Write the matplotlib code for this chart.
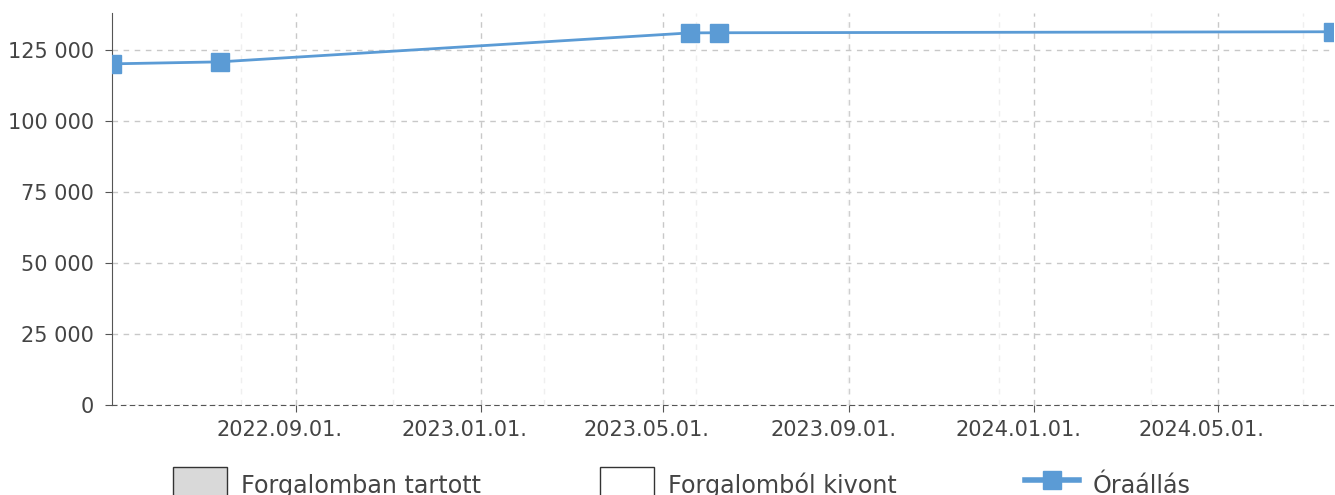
import numpy as np
import pandas as pd
import matplotlib
matplotlib.use("Agg")
import matplotlib.pyplot as plt
import matplotlib.dates as mdates
import matplotlib.transforms as mtransforms
from matplotlib.ticker import FuncFormatter, MultipleLocator
from matplotlib.patches import Patch
from matplotlib.lines import Line2D

plt.rcParams['font.family'] = ['DejaVu Sans']

# Adatok (leolvasva)
datumok = pd.to_datetime(["2022-05-03", "2022-07-13", "2023-05-19", "2023-06-07", "2024-07-16"])
oraallas = [120100, 120800, 131000, 131050, 131400]
y_tickek = [0, 25000, 50000, 75000, 100000, 125000]
x_tickek = pd.to_datetime(["2022-09-01", "2023-01-01", "2023-05-01", "2023-09-01", "2024-01-01", "2024-05-01"])
jelmagyarazat = ["Forgalomban tartott", "Forgalomból kivont", "Óraállás"]

kek = "#5b9bd5"
szoveg = "#444444"

fig = plt.figure(figsize=(13.35, 4.95), dpi=100)
ax = fig.add_axes([0.0839, 0.182, 0.9146, 0.7917])

ax.plot(datumok, oraallas, color=kek, lw=2, marker="s", markersize=13, zorder=3)

ax.set_xlim(datumok[0], datumok[-1])
ax.set_ylim(0, 138000)

ax.set_yticks(y_tickek)
ax.yaxis.set_major_formatter(FuncFormatter(lambda v, p: f"{int(v):,}".replace(",", " ")))
ax.set_xticks(x_tickek)
ax.xaxis.set_major_formatter(mdates.DateFormatter("%Y.%m.%d."))
ax.xaxis.set_minor_locator(MultipleLocator(100))

ax.grid(True, which="major", color="#c8c8c8", ls=(0, (4, 4)), lw=1)
ax.grid(True, which="minor", axis="x", color="#efefef", ls=(0, (4, 4)), lw=1)
ax.set_axisbelow(True)

for s in ["top", "right"]:
    ax.spines[s].set_visible(False)
ax.spines["left"].set_color("#555555")
ax.spines["bottom"].set_color("#555555")
ax.spines["bottom"].set_linestyle((0, (4, 4)))

ax.tick_params(axis="both", which="major", labelsize=15, colors=szoveg, length=5, color="#555555")
ax.tick_params(axis="x", which="minor", length=0)
ax.tick_params(axis="x", pad=6)
ax.tick_params(axis="y", pad=8)

# a dátumcímkék kicsit balra tolva, mint az eredetin
eltolas = mtransforms.ScaledTranslation(-16 / 100, 0, fig.dpi_scale_trans)
for lbl in ax.get_xticklabels():
    lbl.set_transform(lbl.get_transform() + eltolas)

# jelmagyarázat: három egyforma szélességű oszlop
handles = [
    Patch(facecolor="#d9d9d9", edgecolor="#333333", lw=1),
    Patch(facecolor="white", edgecolor="#333333", lw=1),
    Line2D([], [], color=kek, lw=4, marker="s", markersize=13),
]
oszlop_x = [173 / 1335, 600 / 1335, 1025 / 1335]
for h, nev, x in zip(handles, jelmagyarazat, oszlop_x):
    leg = fig.legend([h], [nev], loc="upper left", bbox_to_anchor=(x, 0.057),
                     frameon=False, fontsize=17.2, handlelength=2.25, handleheight=2.0,
                     handletextpad=0.6, borderaxespad=0, borderpad=0)
    for t in leg.get_texts():
        t.set_color(szoveg)

fig.savefig("out.png", dpi=100)
